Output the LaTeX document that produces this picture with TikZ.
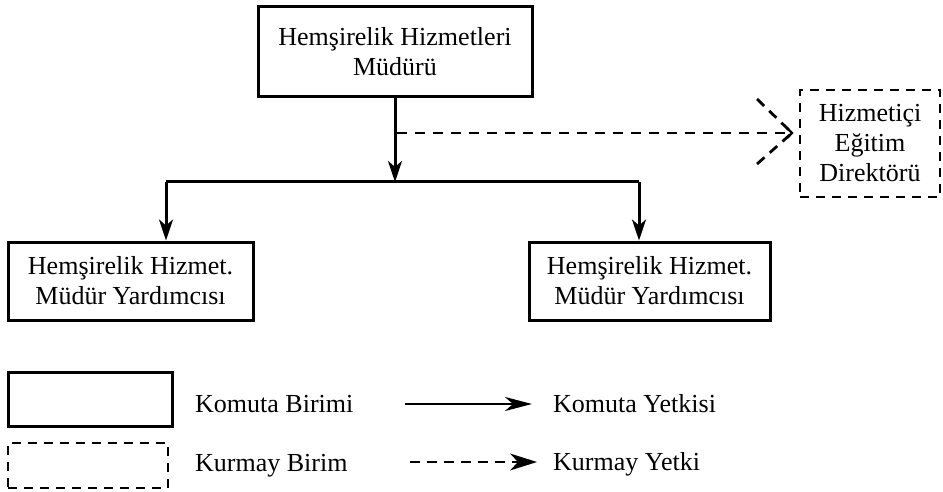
\documentclass[tikz,border=0pt]{standalone}
\usepackage{fontspec}
\setmainfont{Liberation Serif}
\usetikzlibrary{arrows.meta}
\begin{document}
\begin{tikzpicture}[x=1pt,y=-1pt,
  txt/.style={font=\fontsize{26}{30}\selectfont, align=center},
  unit/.style={txt, draw, line width=3pt, inner sep=0pt},
  staffunit/.style={txt, draw, line width=2.8pt, inner sep=0pt, dash pattern=on 9pt off 7pt},
  cmdline/.style={line width=3pt},
  cmdarrow/.style={line width=3pt, -{Stealth[length=21pt, width=14pt, inset=6pt]}},
  staffline/.style={line width=2.8pt, dash pattern=on 10pt off 8pt},
  chevron/.style={line width=2.8pt, dash pattern=on 10pt off 7pt},
  legtext/.style={txt, anchor=west, inner sep=0pt}]
\useasboundingbox (0,0) rectangle (943,492);

% organisation chart
\node[unit, minimum width=274pt, minimum height=90pt] (top) at (395,52)
  {Hemşirelik Hizmetleri\\Müdürü};
\node[unit, minimum width=245pt, minimum height=78pt] (left) at (130.5,281)
  {Hemşirelik Hizmet.\\Müdür Yardımcısı};
\node[unit, minimum width=241pt, minimum height=78pt] (right) at (649.5,281)
  {Hemşirelik Hizmet.\\Müdür Yardımcısı};
\node[staffunit, minimum width=140pt, minimum height=107pt] (edu) at (870,143.5)
  {Hizmetiçi\\Eğitim\\Direktörü};

% command lines
\coordinate (hub) at (395,182);
\coordinate (lt) at (166,182);
\coordinate (rt) at (639,182);
\draw[cmdline] (lt) -- (rt);
\draw[cmdarrow] (top.south) -- (hub);
\draw[cmdarrow] (lt) -- (lt |- left.north);
\draw[cmdarrow] (rt) -- (rt |- right.north);

% staff line to the training unit, ending in a wide dashed chevron
\coordinate (br) at (397,133);
\coordinate (tip) at (792,133);
\coordinate (chup) at (757,99);
\coordinate (chdn) at (757,164);
\draw[staffline] (br) -- (tip);
\draw[chevron] (chup) -- (tip);
\draw[chevron] (chdn) -- (tip);
\draw[line width=2.4pt] ([xshift=-5pt,yshift=-5pt]tip) -- (tip) -- ([xshift=-5pt,yshift=5pt]tip);

% legend
\node[unit, minimum width=164pt, minimum height=54pt] (lcmd) at (90,399) {};
\node[staffunit, minimum width=160pt, minimum height=45pt] (lstaff) at (88,465.5) {};
\node[legtext] (tcmd) at (195,404) {Komuta Birimi};
\node[legtext] (tstaff) at (195,466) {Kurmay Birim};
\node[legtext] (tcmda) at (553,404) {Komuta Yetkisi};
\node[legtext] (tstaffa) at (553,464) {Kurmay Yetki};
\coordinate (ca) at (405,404);
\coordinate (sa) at (410,462);
\draw[line width=2.8pt, -{Stealth[length=27pt, width=14pt, inset=8pt]}, shorten >=21pt] (ca) -- (tcmda.west |- ca);
\draw[line width=2.8pt, dash pattern=on 10pt off 7pt, -{Stealth[length=27pt, width=17pt, inset=8pt, line width=0pt]}, shorten >=16pt] (sa) -- (tstaffa.west |- sa);
\end{tikzpicture}
\end{document}
